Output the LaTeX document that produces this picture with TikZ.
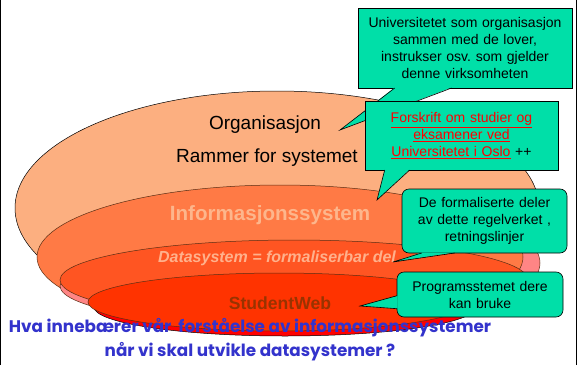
\documentclass[tikz,border=0pt]{standalone}
\usepackage{fontspec}
\setmainfont{Liberation Sans}
\newfontfamily\questfont{Poppins}
\usepackage{xcolor}
\usetikzlibrary{calc}
\definecolor{orgpeach}{HTML}{FCAF80}
\definecolor{infoorange}{HTML}{FF7A45}
\definecolor{dataorange}{HTML}{FF5522}
\definecolor{webred}{HTML}{FF3300}
\definecolor{rimpink}{HTML}{FF8585}
\definecolor{rimred}{HTML}{FF0000}
\definecolor{edgebrown}{HTML}{5A2E14}
\definecolor{infotext}{HTML}{FDB68C}
\definecolor{datatext}{HTML}{FFB18C}
\definecolor{webbrown}{HTML}{993300}
\definecolor{calloutgreen}{HTML}{00DFA8}
\definecolor{linkred}{HTML}{FF0000}
\definecolor{questblue}{HTML}{3333CC}

\tikzset{
  layer/.style={draw=edgebrown, line width=0.5pt},
  callout/.style={draw=black, fill=calloutgreen, line width=0.6pt, align=center,
    inner xsep=4pt, font=\fontsize{14}{17}\selectfont},
  pointer/.style={draw=black, line width=0.6pt, line join=miter}
}

\begin{document}
\begin{tikzpicture}[x=1pt, y=1pt]
\useasboundingbox (0,0) rectangle (577,365);
\fill[white] (0,0) rectangle (577,365);
\draw[black, line width=1.2pt] (0.6,0) -- (0.6,365);
\draw[black, line width=1.2pt] (576.4,0) -- (576.4,365);

% Nested layers, outermost first
\filldraw[layer, fill=orgpeach, draw=black] (277,157) ellipse [x radius=262pt, y radius=117pt];
\filldraw[layer, fill=rimpink] (297,102) ellipse [x radius=243pt, y radius=72pt];
\filldraw[layer, fill=infoorange] (280,108) ellipse [x radius=243pt, y radius=72pt];
\filldraw[layer, fill=rimpink] (294,79) ellipse [x radius=234pt, y radius=40pt];
\filldraw[layer, fill=dataorange] (294,85) ellipse [x radius=234pt, y radius=40pt];
\filldraw[layer, fill=rimred, draw=black] (285,58) ellipse [x radius=191pt, y radius=29pt];
\filldraw[layer, fill=webred] (279,63) ellipse [x radius=191pt, y radius=29pt];

% Layer labels
\node[font=\fontsize{19}{22}\selectfont] (org) at (265,240) {Organisasjon};
\node[font=\fontsize{19}{22}\selectfont] (frame) at (267,207) {Rammer for systemet};
\node[font=\fontsize{20.6}{24}\selectfont\bfseries, text=infotext] (info) at (270,150) {Informasjonssystem};
\node[font=\fontsize{16}{19}\selectfont\bfseries\itshape, text=datatext] (data) at (277,107) {Datasystem = formaliserbar del};
\node[font=\fontsize{17.6}{20}\selectfont\bfseries, text=webbrown] (web) at (280,62) {StudentWeb};

% Callout: the university as organisation
\node[callout, minimum width=214pt, text width=206pt, minimum height=80pt] (univ) at (465,317) {Universitetet som organisasjon\\sammen med de lover,\\instrukser osv.\ som gjelder\\denne virksomheten};
\coordinate (univtip) at (340,235);
\fill[calloutgreen] ($(univ.south west)+(37,0.8)$) -- (univtip) -- ($(univ.south west)+(94,0.8)$) -- cycle;
\draw[pointer] ($(univ.south west)+(37,0.3)$) -- (univtip) -- ($(univ.south west)+(94,0.3)$);

% Callout: regulations
\node[callout, minimum width=193pt, text width=185pt, minimum height=69pt] (rules) at (461.5,229.5) {\textcolor{linkred}{\underline{Forskrift om studier og}}\\\textcolor{linkred}{\underline{eksamener ved}}\\\textcolor{linkred}{\underline{Universitetet i Oslo}} ++};
\coordinate (rulestip) at (377,165);
\fill[calloutgreen] ($(rules.south west)+(20,0.8)$) -- (rulestip) -- ($(rules.south west)+(45,0.8)$) -- cycle;
\draw[pointer] ($(rules.south west)+(20,0.3)$) -- (rulestip) -- ($(rules.south west)+(45,0.3)$);

% Callout: formalised parts
\node[callout, rounded corners=7pt, minimum width=165pt, text width=157pt, minimum height=64pt] (formal) at (484.5,144) {De formaliserte deler\\av dette regelverket ,\\retningslinjer};
\coordinate (formaltip) at (393,103);
\fill[calloutgreen] ($(formal.south west)+(20,0.8)$) -- (formaltip) -- ($(formal.south west)+(53,0.8)$) -- cycle;
\draw[pointer] ($(formal.south west)+(20,0.3)$) -- (formaltip) -- ($(formal.south west)+(53,0.3)$);

% Callout: the program
\node[callout, rounded corners=7pt, minimum width=166pt, text width=158pt, minimum height=45pt] (prog) at (480,70.5) {Programsstemet dere\\kan bruke};
\coordinate (progtip) at (360,59);
\fill[calloutgreen] ($(prog.north west)+(0.8,-24)$) -- (progtip) -- ($(prog.north west)+(0.8,-37)$) -- cycle;
\draw[pointer] ($(prog.north west)+(0.3,-24)$) -- (progtip) -- ($(prog.north west)+(0.3,-37)$);

% Question at the bottom
\node[font=\questfont\bfseries\fontsize{16.8}{24}\selectfont, text=questblue, align=center] (question) at (250,25) {Hva innebærer vår~ forståelse av informasjonssystemer\\når vi skal utvikle datasystemer ?};

\end{tikzpicture}
\end{document}
